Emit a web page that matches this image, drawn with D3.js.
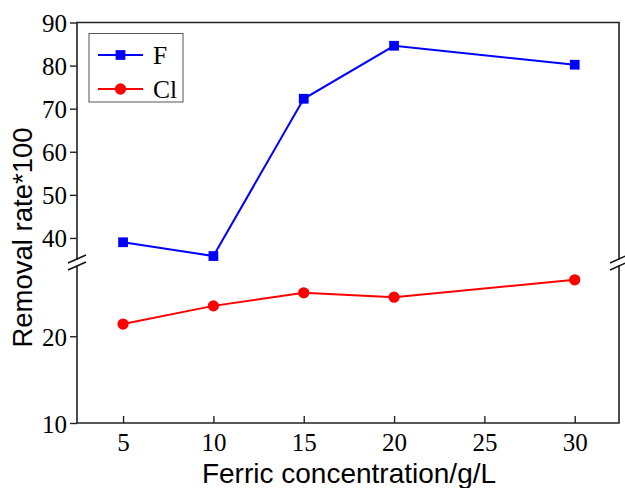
<!doctype html>
<html>
<head>
  <title> Removal rate </title>
  <script src="https://d3js.org/d3.v7.min.js" charset="utf-8"></script>
  <style>
    body { margin: 0; background: #fff; }
    .tick text { font-family: "Liberation Serif", serif; font-size: 25px; fill: #000; }
  </style>
</head>
<body>
  <svg width="625" height="488"></svg>
  <script>
  // data
  var conc = [5, 10, 15, 20, 30];
  var fRemoval = [39.0, 35.8, 72.3, 84.6, 80.2];
  var clRemoval = [21.4, 23.5, 25.0, 24.5, 26.5];
  var xTicks = [5, 10, 15, 20, 25, 30];
  var yTicksLow = [10, 20];
  var yTicksHigh = [40, 50, 60, 70, 80, 90];

  var svg = d3.select("svg"),
      plotL = 77, plotR = 619, plotT = 22.5, plotB = 423,
      breakY = 262.5;

  var x = d3.scaleLinear().domain([2.45, 32.45]).range([plotL, plotR]);
  var yLow = d3.scaleLinear().domain([10, 28.5]).range([plotB, breakY]);
  var yHigh = d3.scaleLinear().domain([34.3, 90]).range([breakY, plotT]);
  function y(v) { return v < 31 ? yLow(v) : yHigh(v); }

  // frame
  svg.append("path")
      .attr("d", "M" + plotL + "," + plotT + "H" + plotR + "V" + plotB + "H" + plotL + "Z")
      .attr("fill", "none").attr("stroke", "#222").attr("stroke-width", 1.6);

  // x axis, ticks pointing in
  var gx = svg.append("g")
      .attr("transform", "translate(0," + plotB + ")")
      .call(d3.axisBottom(x).tickValues(xTicks).tickSizeInner(-7).tickSizeOuter(0).tickPadding(10));
  gx.select(".domain").remove();
  gx.selectAll("line").attr("stroke", "#222").attr("stroke-width", 1.4);

  // y axes, two segments
  [[yLow, yTicksLow], [yHigh, yTicksHigh]].forEach(function(p) {
    var g = svg.append("g")
        .attr("transform", "translate(" + plotL + ",0)")
        .call(d3.axisLeft(p[0]).tickValues(p[1]).tickSizeInner(7).tickSizeOuter(0).tickPadding(3));
    g.select(".domain").remove();
    g.selectAll("line").attr("stroke", "#222").attr("stroke-width", 1.4);
    g.selectAll("text").attr("dy", "0.36em");
  });

  // break marks on both sides
  [plotL, plotR].forEach(function(xx) {
    svg.append("rect").attr("x", xx - 3).attr("y", breakY - 3).attr("width", 6).attr("height", 6).attr("fill", "#fff");
    [-3.5, 3.5].forEach(function(o) {
      svg.append("line")
          .attr("x1", xx - 9).attr("y1", breakY + o + 4)
          .attr("x2", xx + 9).attr("y2", breakY + o - 4)
          .attr("stroke", "#111").attr("stroke-width", 1.4);
    });
  });

  var series = [
    {name: "F", values: fRemoval, color: "#0000ff", shape: d3.symbolSquare},
    {name: "Cl", values: clRemoval, color: "#ff0000", shape: d3.symbolCircle}
  ];

  series.forEach(function(s) {
    var pts = conc.map(function(c, i) { return [c, s.values[i]]; });
    svg.append("path")
        .datum(pts)
        .attr("fill", "none").attr("stroke", s.color).attr("stroke-width", 2)
        .attr("d", d3.line().x(function(d) { return x(d[0]); }).y(function(d) { return y(d[1]); }));
    svg.selectAll(null)
        .data(pts)
        .enter().append("path")
        .attr("transform", function(d) { return "translate(" + x(d[0]) + "," + y(d[1]) + ")"; })
        .attr("d", d3.symbol().type(s.shape).size(s.shape === d3.symbolSquare ? 95 : 100))
        .attr("fill", s.color);
  });

  // legend
  var lg = svg.append("g");
  lg.append("rect").attr("x", 89).attr("y", 33.5).attr("width", 94).attr("height", 68.5)
      .attr("fill", "#fff").attr("stroke", "#555").attr("stroke-width", 1);
  series.forEach(function(s, i) {
    var ly = 55 + i * 34;
    lg.append("line").attr("x1", 98).attr("x2", 143).attr("y1", ly).attr("y2", ly)
        .attr("stroke", s.color).attr("stroke-width", 2);
    lg.append("path").attr("transform", "translate(120.5," + ly + ")")
        .attr("d", d3.symbol().type(s.shape).size(s.shape === d3.symbolSquare ? 95 : 100))
        .attr("fill", s.color);
    lg.append("text").attr("x", 153).attr("y", ly).attr("dy", "0.35em")
        .style("font-family", "Liberation Serif, serif").style("font-size", "25.5px")
        .text(s.name);
  });

  // axis titles
  svg.append("text")
      .attr("x", 349).attr("y", 483)
      .attr("text-anchor", "middle")
      .style("font-family", "Liberation Sans, Arial, sans-serif").style("font-size", "28px")
      .text("Ferric concentration/g/L");

  svg.append("text")
      .attr("transform", "translate(32,237.5) rotate(-90)")
      .attr("text-anchor", "middle")
      .style("font-family", "Liberation Sans, Arial, sans-serif").style("font-size", "27.5px")
      .text("Removal rate*100");
  </script>
</body>
</html>
